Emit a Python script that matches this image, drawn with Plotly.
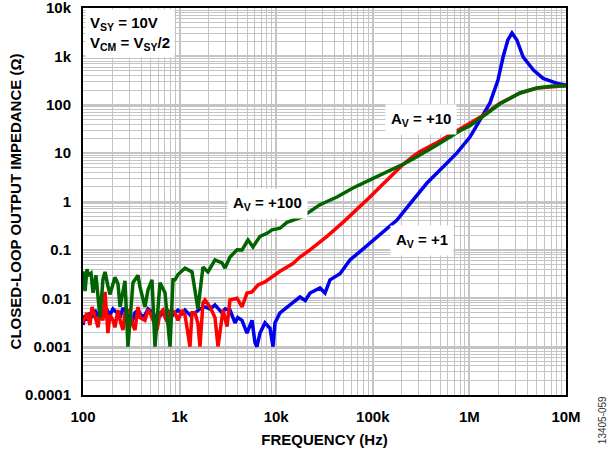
import plotly.graph_objects as go

# A_V = +1 (blue)
freq_av1 = [100, 105, 110, 118, 124, 133, 140, 150, 161, 177, 190, 204, 225, 242, 259, 292, 322, 345,
            371, 404, 438, 471, 518, 556, 596, 673, 741, 796, 854, 962, 1059, 1137, 1281, 1443, 1625,
            1831, 2064, 2323, 2748, 2951, 3325, 3745, 4000, 4424, 4985, 5616, 6032, 6321, 6793, 7653,
            8626, 9264, 9719, 10950, 12935, 13890, 17620, 20000, 22390, 28400, 32000, 36060, 45720,
            58030, 73640, 93450, 118700, 177900, 260600, 363900, 533000, 744000, 1014000, 1288000,
            1633000, 1977000, 2233000, 2500000, 2761000, 3100000, 3600000, 4600000, 5800000, 8100000,
            10000000]
z_av1 = [0.0028, 0.0045, 0.0035, 0.0050, 0.0040, 0.0057, 0.0045, 0.0052, 0.0041, 0.0057, 0.0045,
         0.0060, 0.0050, 0.0040, 0.0063, 0.0045, 0.0032, 0.0050, 0.0057, 0.0042, 0.0045, 0.0060,
         0.0052, 0.0042, 0.0039, 0.0050, 0.0057, 0.0042, 0.0045, 0.0057, 0.0048, 0.0057, 0.0045,
         0.0050, 0.0060, 0.0066, 0.0060, 0.0073, 0.0050, 0.0060, 0.0057, 0.0031, 0.0040, 0.0035,
         0.0019, 0.0035, 0.0012, 0.0010, 0.0019, 0.0031, 0.0024, 0.0010, 0.0031, 0.0050, 0.0063,
         0.0073, 0.0106, 0.0090, 0.0128, 0.0163, 0.0128, 0.024, 0.032, 0.062, 0.092, 0.139, 0.203,
         0.414, 1.07, 2.41, 5.17, 10.1, 21.5, 48.4, 109, 325, 971, 2181, 3042, 2181, 971, 523, 350,
         276, 256]

# A_V = +10 (red)
freq_av10 = [100, 110, 118, 124, 133, 143, 150, 161, 169, 181, 190, 204, 214, 230, 242, 259, 272, 307,
             322, 345, 371, 389, 438, 471, 494, 556, 584, 627, 673, 706, 758, 796, 854, 896, 962, 1059,
             1137, 1281, 1344, 1443, 1549, 1625, 1745, 1831, 2064, 2323, 2498, 2814, 3096, 3325, 3487,
             3927, 4424, 4985, 5616, 6478, 7653, 9046, 9719, 10950, 14920, 17620, 22390, 33570, 49110,
             73640, 93450, 118700, 150600, 205400, 260600, 308000, 461900, 799300, 1014000, 1288000,
             2074000, 3341000, 5010000, 7335000, 10000000]
z_av10 = [0.0031, 0.0050, 0.0028, 0.0066, 0.0043, 0.0025, 0.0050, 0.0035, 0.0135, 0.0019, 0.0045,
          0.0035, 0.0025, 0.0057, 0.0035, 0.0022, 0.0050, 0.0057, 0.0030, 0.0022, 0.0066, 0.0040,
          0.0035, 0.0058, 0.0050, 0.0030, 0.0022, 0.0050, 0.0057, 0.0040, 0.0031, 0.0054, 0.0054,
          0.0050, 0.0035, 0.0057, 0.0045, 0.0010, 0.0050, 0.0050, 0.0030, 0.0010, 0.0080, 0.0092,
          0.0066, 0.0040, 0.0010, 0.0057, 0.0026, 0.0092, 0.0095, 0.0100, 0.0066, 0.0128, 0.0135,
          0.0188, 0.0217, 0.028, 0.031, 0.036, 0.052, 0.071, 0.10, 0.19, 0.37, 0.78, 1.24, 2.0, 3.2,
          5.8, 8.6, 10.8, 16.5, 32, 41, 55, 107, 175, 222, 240, 248]

# A_V = +100 (green)
freq_av100 = [100, 105, 110, 113, 121, 127, 136, 143, 150, 161, 169, 181, 190, 214, 230, 242, 272, 292,
              329, 371, 389, 438, 471, 518, 556, 627, 706, 796, 854, 896, 962, 1137, 1344, 1549, 1745,
              1966, 2323, 2748, 2951, 3325, 3927, 4424, 5103, 5748, 6793, 8030, 9046, 10950, 12935,
              18490, 28400, 42580, 62340, 93450, 118700, 150600, 205400, 260600, 308000, 461900,
              799300, 1014000, 1288000, 2074000, 3341000, 5010000, 7335000, 10000000]
z_av100 = [0.036, 0.014, 0.040, 0.030, 0.033, 0.013, 0.030, 0.0095, 0.004, 0.025, 0.035, 0.018, 0.012,
           0.027, 0.020, 0.0066, 0.023, 0.001, 0.021, 0.030, 0.017, 0.0066, 0.015, 0.024, 0.001, 0.021,
           0.013, 0.001, 0.024, 0.024, 0.031, 0.042, 0.035, 0.006, 0.044, 0.035, 0.062, 0.054, 0.042,
           0.071, 0.10, 0.099, 0.16, 0.115, 0.19, 0.22, 0.26, 0.28, 0.37, 0.48, 0.86, 1.24, 1.9, 2.8,
           3.5, 4.3, 5.9, 7.6, 9.2, 14.8, 29, 37, 52, 105, 175, 222, 243, 248]

x_tickvals = [100, 1000, 10000, 100000, 1000000, 10000000]
x_ticktext = ["100", "1k", "10k", "100k", "1M", "10M"]
y_tickvals = [0.0001, 0.001, 0.01, 0.1, 1, 10, 100, 1000, 10000]
y_ticktext = ["0.0001", "0.001", "0.01", "0.1", "1", "10", "100", "1k", "10k"]

FONT = "Liberation Sans, Arial, sans-serif"
GRID = "#c4c4c4"

fig = go.Figure()
for fx, zy, color in [(freq_av1, z_av1, "#0000ee"),
                      (freq_av10, z_av10, "#ff0000"),
                      (freq_av100, z_av100, "#006400")]:
    fig.add_trace(go.Scatter(x=fx, y=zy, mode="lines",
                             line=dict(color=color, width=3.5), showlegend=False))

axis_common = dict(
    type="log", showline=True, linecolor="black", linewidth=2, mirror=True,
    showgrid=True, gridcolor=GRID, gridwidth=2, zeroline=False, automargin=False,
    ticks="outside", ticklen=7, tickcolor="rgba(0,0,0,0)", ticklabeloverflow="allow",
    tickfont=dict(family=FONT, size=15, color="black", weight="bold"),
    minor=dict(showgrid=True, gridcolor=GRID, gridwidth=1, dtick="D1", ticks=""),
)

fig.update_xaxes(
    range=[1.9999, 7.0001], tickmode="array", tickvals=x_tickvals, ticktext=x_ticktext,
    title=dict(text="FREQUENCY (Hz)", standoff=10,
               font=dict(family=FONT, size=15, color="black", weight="bold")),
    **axis_common,
)
fig.update_yaxes(
    range=[-4.0001, 4.0001], tickmode="array", tickvals=y_tickvals, ticktext=y_ticktext,
    title=dict(text="CLOSED-LOOP OUTPUT IMPEDANCE (Ω)", standoff=0,
               font=dict(family=FONT, size=15, color="black", weight="bold")),
    **axis_common,
)

label_font = dict(family=FONT, size=15, color="black", weight="bold")
fig.add_annotation(xref="paper", yref="paper", x=0.004, y=0.997, xanchor="left", yanchor="top",
                   text="V<sub>SY</sub> = 10V<br>V<sub>CM</sub> = V<sub>SY</sub>/2", align="left",
                   showarrow=False, font=label_font, bgcolor="white", borderpad=4)
for lbl, lx, ly in [("A<sub>V</sub> = +100", 0.381, 0.496),
                    ("A<sub>V</sub> = +10", 0.700, 0.711),
                    ("A<sub>V</sub> = +1", 0.702, 0.398)]:
    fig.add_annotation(xref="paper", yref="paper", x=lx, y=ly, xanchor="center", yanchor="middle",
                       text=lbl, showarrow=False, font=label_font, bgcolor="white", borderpad=5)
fig.add_annotation(xref="paper", yref="paper", x=1.0745, y=-0.065, xanchor="center", yanchor="middle",
                   text="13405-059", textangle=-90, showarrow=False,
                   font=dict(family=FONT, size=10, color="#333333"))

fig.update_layout(
    width=610, height=449,
    margin=dict(l=83, r=44, t=8, b=54),
    plot_bgcolor="white", paper_bgcolor="white",
    font=dict(family=FONT),
)

# page body has a default 8px margin; drop it so the figure sits at the window origin
fig.write_html("out.html", config={"displayModeBar": False},
               post_script="document.body.style.margin='0';")
